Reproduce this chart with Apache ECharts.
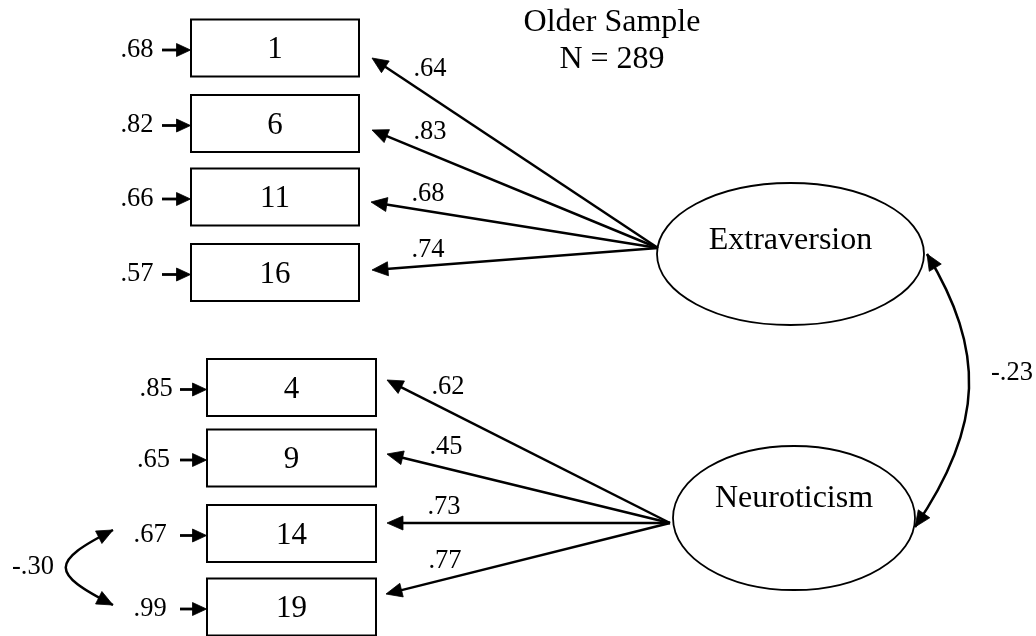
<!DOCTYPE html>
<html><head><meta charset="utf-8">
<script src="https://cdn.jsdelivr.net/npm/echarts@6/dist/echarts.min.js"></script>
<style>html,body{margin:0;padding:0;background:#fff}#c{width:1036px;height:636px}</style>
</head><body><div id="c"></div>
<script>
// ---- data ----
const titleLines = ['Older Sample', 'N = 289'];
const factorNames = ['Extraversion', 'Neuroticism'];
const extraversionItems = ['1', '6', '11', '16'];
const extraversionLoadings = [0.64, 0.83, 0.68, 0.74];
const extraversionResiduals = [0.68, 0.82, 0.66, 0.57];
const neuroticismItems = ['4', '9', '14', '19'];
const neuroticismLoadings = [0.62, 0.45, 0.73, 0.77];
const neuroticismResiduals = [0.85, 0.65, 0.67, 0.99];
const factorCorrelation = -0.23;          // Extraversion <-> Neuroticism
const residualCorrelation = -0.30;        // residuals of items 14 and 19

// ---- layout (diagram units of the hidden axes) ----
const groupLayout = [
  { boxLeft: 191, boxRight: 359, rowY: [48, 123.5, 197, 272.5], boxH: 57,
    resRight: [153.5, 153.5, 153.5, 153.5], resArrow: [162, 190.5],
    ellipse: { cx: 790.5, cy: 254, rx: 133.5, ry: 71 }, textY: 241,
    source: [658, 248], tips: [[372, 58], [372, 130], [371, 202], [372, 270]],
    loadLabel: [[430, 69], [430, 132], [428, 194], [428, 250]] },
  { boxLeft: 207, boxRight: 376, rowY: [387.5, 458, 533.5, 607], boxH: 57,
    resRight: [172.7, 170, 166.7, 166.7], resArrow: [180, 206.5],
    ellipse: { cx: 794, cy: 518, rx: 121, ry: 72 }, textY: 499,
    source: [670, 523], tips: [[387, 380], [387, 454], [387, 523], [386, 594]],
    loadLabel: [[448, 387], [446, 447], [444, 507], [445, 561]] }
];
const curveLayout = [
  { p0: [927, 254], c1: [985, 350], c2: [985, 425], p1: [915, 527], label: [1012, 373] },
  { p0: [113, 530], c1: [50, 562], c2: [50, 573], p1: [113, 605], label: [33, 567] }
];
const BIG = '32px "Liberation Serif"';
const BOX = '31px "Liberation Serif"';
const SMALL = '26.5px "Liberation Serif"';

const groups = [
  { items: extraversionItems, loadings: extraversionLoadings, residuals: extraversionResiduals },
  { items: neuroticismItems, loadings: neuroticismLoadings, residuals: neuroticismResiduals }
];
const correlations = [factorCorrelation, residualCorrelation];

function fmt(v) { return (v < 0 ? '-' : '') + Math.abs(v).toFixed(2).slice(1); }

function txt(p, s, font, align) {
  return { type: 'text', style: { text: s, x: p[0], y: p[1], font: font, fill: '#000',
    align: align || 'center', textAlign: align || 'center',
    verticalAlign: 'middle', textVerticalAlign: 'middle' } };
}
function head(tip, dir, L, W) {
  const n = Math.hypot(dir[0], dir[1]); const ux = dir[0] / n, uy = dir[1] / n;
  const bx = tip[0] - ux * L, by = tip[1] - uy * L;
  return { type: 'polygon', shape: { points: [[tip[0], tip[1]], [bx - uy * W, by + ux * W], [bx + uy * W, by - ux * W]] },
    style: { fill: '#000', stroke: '#000', lineWidth: 0.8, lineJoin: 'miter' } };
}
function arrow(from, tip, L, W, lw) {
  const dx = tip[0] - from[0], dy = tip[1] - from[1];
  const n = Math.hypot(dx, dy); const ux = dx / n, uy = dy / n;
  return [
    { type: 'line', shape: { x1: from[0], y1: from[1], x2: tip[0] - ux * (L - 2), y2: tip[1] - uy * (L - 2) },
      style: { stroke: '#000', lineWidth: lw } },
    head(tip, [dx, dy], L, W)
  ];
}

// indicator rows: [groupIndex, rowIndex]
const indicatorData = [];
groups.forEach((g, gi) => g.items.forEach((it, ri) => indicatorData.push([gi, ri])));

function renderIndicator(params, api) {
  const gi = api.value(0), ri = api.value(1);
  const L = groupLayout[gi], G = groups[gi];
  const c = p => api.coord(p);
  const tl = c([L.boxLeft, L.rowY[ri] - L.boxH / 2]);
  const br = c([L.boxRight, L.rowY[ri] + L.boxH / 2]);
  const els = [];
  els.push({ type: 'rect', shape: { x: tl[0], y: tl[1], width: br[0] - tl[0], height: br[1] - tl[1] },
    style: { fill: '#fff', stroke: '#000', lineWidth: 2 } });
  const midX = (L.boxLeft + L.boxRight) / 2;
  els.push(txt(c([midX, L.rowY[ri] + 2]), G.items[ri], BOX));
  // residual
  const ry = L.rowY[ri] + 2;
  els.push(txt(c([L.resRight[ri], ry]), fmt(G.residuals[ri]), SMALL, 'right'));
  els.push(...arrow(c([L.resArrow[0], ry]), c([L.resArrow[1], ry]), 14, 6.5, 2.8));
  // loading
  els.push(...arrow(c(L.source), c(L.tips[ri]), 16, 7, 2.5));
  els.push(txt(c(L.loadLabel[ri]), fmt(G.loadings[ri]), SMALL));
  return { type: 'group', children: els };
}

function renderFactor(params, api) {
  const gi = api.value(0);
  const E = groupLayout[gi].ellipse;
  const ctr = api.coord([E.cx, E.cy]);
  const ex = api.coord([E.cx + E.rx, E.cy + E.ry]);
  const tp = api.coord([E.cx, groupLayout[gi].textY]);
  return { type: 'group', children: [
    { type: 'ellipse', shape: { cx: ctr[0], cy: ctr[1], rx: ex[0] - ctr[0], ry: ex[1] - ctr[1] },
      style: { fill: '#fff', stroke: '#000', lineWidth: 1.8 } },
    txt(tp, factorNames[gi], BIG)
  ] };
}

function renderCurve(params, api) {
  const ci = api.value(0);
  const K = curveLayout[ci];
  const p0 = api.coord(K.p0), c1 = api.coord(K.c1), c2 = api.coord(K.c2), p1 = api.coord(K.p1);
  return { type: 'group', children: [
    { type: 'bezierCurve', shape: { x1: p0[0], y1: p0[1], cpx1: c1[0], cpy1: c1[1], cpx2: c2[0], cpy2: c2[1], x2: p1[0], y2: p1[1] },
      style: { stroke: '#000', lineWidth: 2.5, fill: null } },
    head(p0, [p0[0] - c1[0], p0[1] - c1[1]], 16, 7),
    head(p1, [p1[0] - c2[0], p1[1] - c2[1]], 16, 7),
    txt(api.coord(K.label), fmt(correlations[ci]), SMALL)
  ] };
}

const chart = echarts.init(document.getElementById('c'), null, { renderer: 'canvas' });
chart.setOption({
  animation: false,
  backgroundColor: '#fff',
  title: { text: titleLines.join('\n'), left: 612, top: 4.5, padding: 0, textAlign: 'center',
    textStyle: { fontFamily: 'Liberation Serif', fontSize: 32, fontWeight: 'normal', color: '#000', lineHeight: 37 } },
  grid: { left: 0, right: 0, top: 0, bottom: 0 },
  xAxis: { type: 'value', min: 0, max: 1036, show: false },
  yAxis: { type: 'value', min: 0, max: 636, inverse: true, show: false },
  series: [
    { type: 'custom', name: 'indicators', silent: true, clip: false, data: indicatorData, renderItem: renderIndicator, z: 3 },
    { type: 'custom', name: 'factors', silent: true, clip: false, data: [[0], [1]], renderItem: renderFactor, z: 2 },
    { type: 'custom', name: 'correlations', silent: true, clip: false, data: [[0], [1]], renderItem: renderCurve, z: 4 }
  ]
});
</script></body></html>
